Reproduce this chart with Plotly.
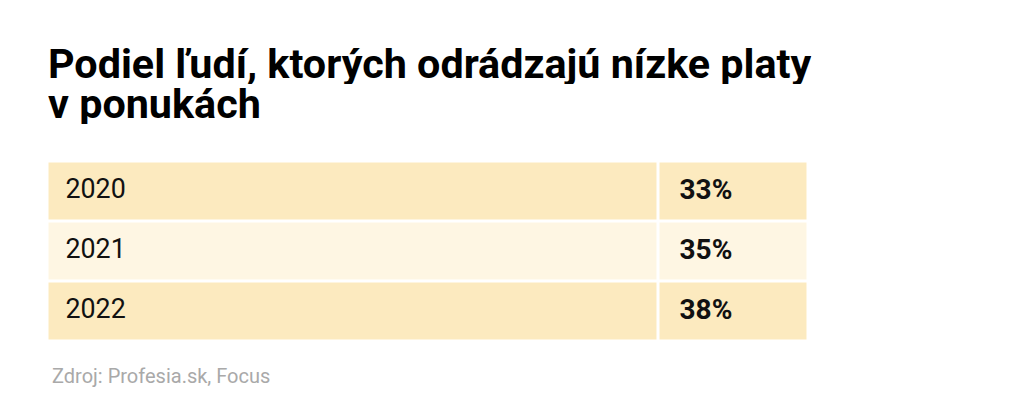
import plotly.graph_objects as go

W, H = 1024, 413
OFF = 8  # page body margin shifts everything by this many px

title_line1 = "Podiel ľudí, ktorých odrádzajú nízke platy"
title_line2 = "v ponukách"
source = "Zdroj: Profesia.sk, Focus"

years = ["2020", "2021", "2022"]
shares = ["33%", "35%", "38%"]

row_colors = ["#fceabf", "#fef6e3", "#fceabf"]
col_edges = [0, 611, 761]  # column boundaries (px units of the table axis)


def py(y):
    # page pixel y -> paper coordinate
    return 1 - (y - OFF) / H


def px(x):
    return (x - OFF) / W


n = len(years)
rows = list(range(n))
zvals = [[i, i] for i in rows]
cscale = [[i / (n - 1), c] for i, c in enumerate(row_colors)]

fig = go.Figure()
fig.add_trace(go.Heatmap(
    z=zvals, x=col_edges, y=[r for r in range(n + 1)],
    colorscale=cscale, zmin=0, zmax=n - 1, showscale=False,
    xgap=3, ygap=3, hoverinfo="skip",
))
fig.add_trace(go.Scatter(
    x=[col_edges[0] + 18] * n, y=[r + 0.5 for r in rows], text=years,
    mode="text", textposition="middle right", hoverinfo="skip",
    textfont=dict(family="Roboto", size=26.8, color="#111111"),
))
fig.add_trace(go.Scatter(
    x=[col_edges[1] + 21] * n, y=[r + 0.5 for r in rows], text=["<b>%s</b>" % s for s in shares],
    mode="text", textposition="middle right", hoverinfo="skip",
    textfont=dict(family="Roboto", size=28, color="#111111"),
))

# two separate lines: the reference uses a tighter line height than plotly's <br>
for line, base in ((title_line1, 80), (title_line2, 120)):
    fig.add_annotation(text="<b>%s</b>" % line, x=px(46), y=py(base - 16), xref="paper", yref="paper",
                       xanchor="left", yanchor="middle", showarrow=False, height=40, valign="middle",
                       font=dict(family="Roboto", size=41.3, color="black"))
fig.add_annotation(text=source, x=px(50), y=py(390), xref="paper", yref="paper",
                   xanchor="left", yanchor="bottom", showarrow=False,
                   font=dict(family="Roboto", size=20, color="#a9a9a9"))

fig.update_xaxes(domain=[px(47.5), px(808.5)], range=[col_edges[0], col_edges[-1]],
                 visible=False, fixedrange=True)
fig.update_yaxes(domain=[py(341.5), py(161.5)], range=[n, 0],
                 visible=False, fixedrange=True)

fig.update_layout(
    width=W, height=H,
    margin=dict(l=0, r=0, t=0, b=0),
    paper_bgcolor="white",
    plot_bgcolor="white",
    showlegend=False,
)

fig.write_html("out.html")
